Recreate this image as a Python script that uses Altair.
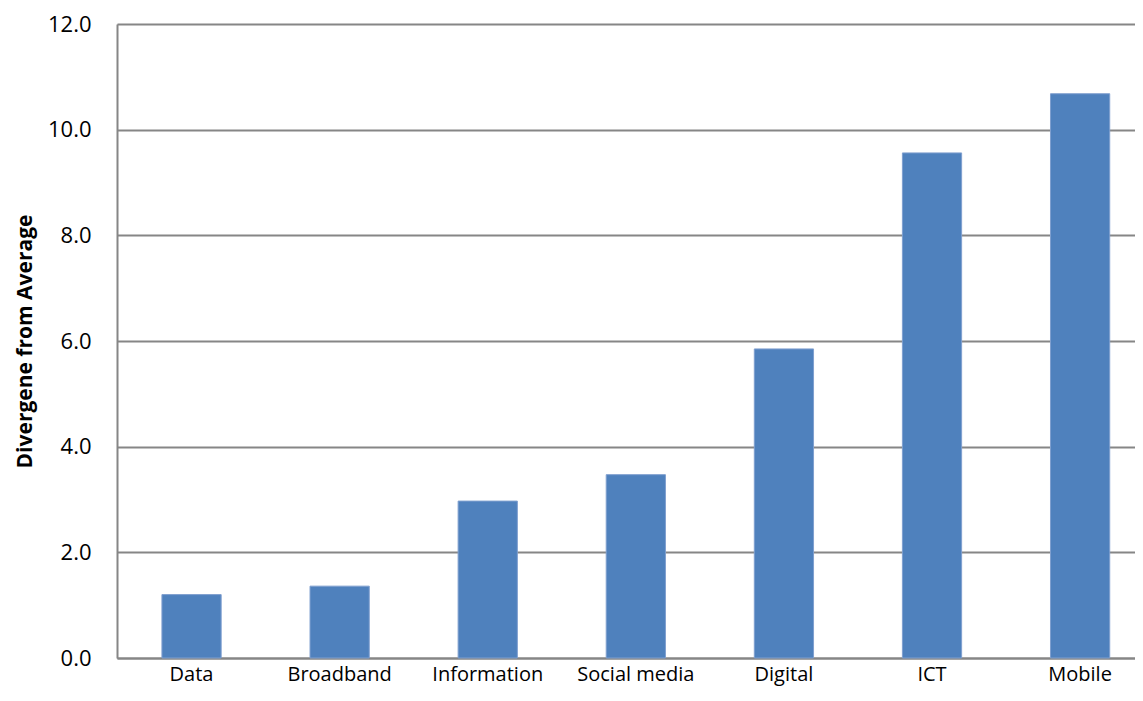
import altair as alt
import pandas as pd

categories = ["Data", "Broadband", "Information", "Social media", "Digital", "ICT", "Mobile"]
values = [1.2, 1.36, 2.97, 3.47, 5.85, 9.56, 10.68]
y_ticks = [0, 2, 4, 6, 8, 10, 12]

df = pd.DataFrame({"category": categories, "value": values})

FONT = "Open Sans"
GRID = "#868686"

chart = alt.Chart(df).mark_bar(
    color="#4F81BD", stroke="#7F9FCF", strokeWidth=1
).encode(
    x=alt.X(
        "category:N",
        sort=categories,
        scale=alt.Scale(paddingInner=0.6, paddingOuter=0.237, align=0.64),
        axis=alt.Axis(
            title=None, labelAngle=0, ticks=False, labelPadding=6,
            labelFont=FONT, labelFontSize=20, labelColor="#000000",
            domainColor=GRID, domainWidth=2, grid=False,
        ),
    ),
    y=alt.Y(
        "value:Q",
        scale=alt.Scale(domain=[0, 12], nice=False),
        axis=alt.Axis(
            title="Divergene from Average", values=y_ticks, format=".1f",
            ticks=False, labelPadding=26,
            labelFont=FONT, labelFontSize=22, labelColor="#000000",
            titleFont=FONT, titleFontSize=21, titleFontWeight="bold",
            titleColor="#000000", titleX=-92, titleY=317, titleBaseline="middle",
            titleAngle=270,
            domainColor=GRID, domainWidth=2,
            grid=True, gridColor=GRID, gridWidth=1.8, gridOpacity=1,
        ),
    ),
).properties(
    width=1018,
    height=634,
    autosize=alt.AutoSizeParams(type="none"),
    padding={"left": 109, "top": 16, "right": 0, "bottom": 30},
).configure_view(
    stroke=None
).configure(
    background="#FFFFFF"
)

chart.save("out.html", embed_options={"renderer": "svg", "actions": False})
